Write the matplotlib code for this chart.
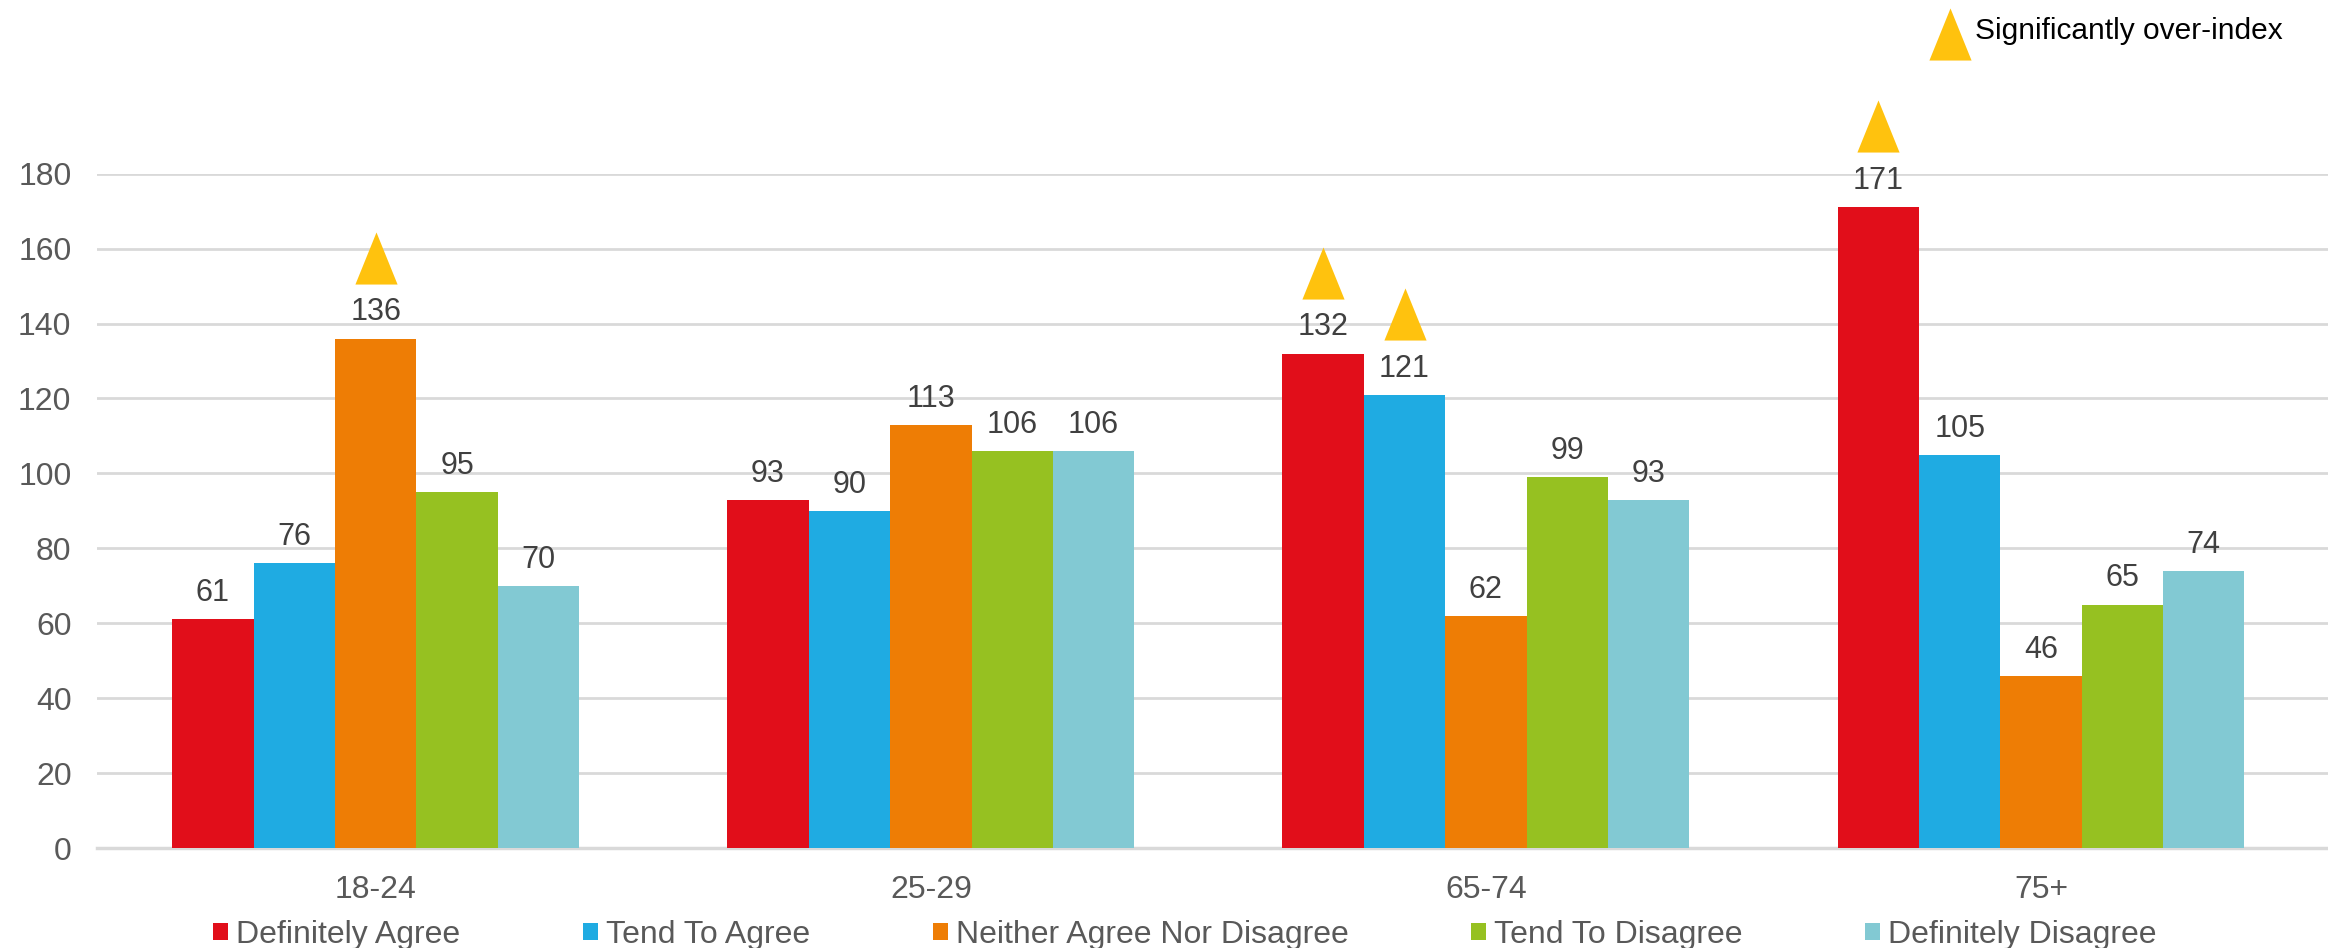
import matplotlib
matplotlib.use("Agg")
import matplotlib.pyplot as plt
import matplotlib.transforms as mtransforms
from matplotlib.lines import Line2D
from matplotlib.patches import Patch
import numpy as np

# Data
age_groups = ["18-24", "25-29", "65-74", "75+"]
responses = ["Definitely Agree", "Tend To Agree", "Neither Agree Nor Disagree",
             "Tend To Disagree", "Definitely Disagree"]
definitely_agree = [61, 93, 132, 171]
tend_to_agree = [76, 90, 121, 105]
neither = [136, 113, 62, 46]
tend_to_disagree = [95, 106, 99, 65]
definitely_disagree = [70, 106, 93, 74]
series = [definitely_agree, tend_to_agree, neither, tend_to_disagree, definitely_disagree]

# (response index, age group index) flagged as significantly over-indexing
over_index = [(2, 0), (0, 2), (1, 2), (0, 3)]
legend_note = "Significantly over-index"

colors = ["#E10E1A", "#1FABE2", "#EE7D05", "#96C121", "#82C9D3"]
gold = "#FFC20E"

plt.rcParams["font.family"] = ["Liberation Sans", "DejaVu Sans"]

W, H = 2328, 948
fig = plt.figure(figsize=(W / 100, H / 100), dpi=100)
ax = fig.add_axes([96.5 / W, 1 - 848 / H, 1 - 96.5 / W, (848 - 173.7) / H])

x = np.arange(len(age_groups))
bw = 0.1466
offsets = (np.arange(len(responses)) - 2) * bw

label_tf = mtransforms.offset_copy(ax.transData, fig=fig, x=0, y=13, units="points")
tri_tf = mtransforms.offset_copy(ax.transData, fig=fig, x=0, y=0.81, units="inches")
tri_marker = [(-0.405, -0.5), (0.405, -0.5), (0.0, 0.5)]

for i, (name, vals, c) in enumerate(zip(responses, series, colors)):
    ax.bar(x + offsets[i], vals, width=bw, color=c, linewidth=0, zorder=3)
    for j, v in enumerate(vals):
        ax.text(x[j] + offsets[i], v, str(v), transform=label_tf, ha="center",
                va="baseline", fontsize=22, color="#404040", zorder=4)

for i, j in over_index:
    ax.plot([x[j] + offsets[i]], [series[i][j]], marker=tri_marker, markersize=37.5,
            color=gold, markeredgewidth=0, transform=tri_tf, clip_on=False, zorder=5)

ax.set_xlim(-0.503, 3.517)
ax.set_ylim(0, 180)
ax.set_yticks(range(0, 181, 20))
ax.set_xticks(x)
ax.set_xticklabels(age_groups)
ax.grid(axis="y", color="#D9D9D9", linewidth=2, zorder=0)
ax.set_axisbelow(True)
for s in ["top", "right", "left"]:
    ax.spines[s].set_visible(False)
ax.spines["bottom"].set_color("#D9D9D9")
ax.spines["bottom"].set_linewidth(2.5)
ax.tick_params(axis="both", length=0, labelsize=23, labelcolor="#595959")
ax.tick_params(axis="y", pad=18)
ax.tick_params(axis="x", pad=19.5)

handles = [Patch(facecolor=c, edgecolor="none") for c in colors]
fig.legend(handles, responses, loc="center", bbox_to_anchor=(0.509, 1 - 935 / H),
           ncol=5, frameon=False, fontsize=23, labelcolor="#595959",
           handlelength=0.47, handleheight=0.47, handletextpad=0.25,
           columnspacing=3.84, borderaxespad=0)

# Key for the over-index marker
fig.add_artist(Line2D([1949.5 / W], [1 - 33.5 / H], marker=tri_marker, markersize=37.5,
                      color=gold, markeredgewidth=0, transform=fig.transFigure))
fig.text(1975 / W, 1 - 31 / H, legend_note, ha="left", va="center",
         fontsize=21.5, color="black")

fig.savefig("out.png", dpi=100)
